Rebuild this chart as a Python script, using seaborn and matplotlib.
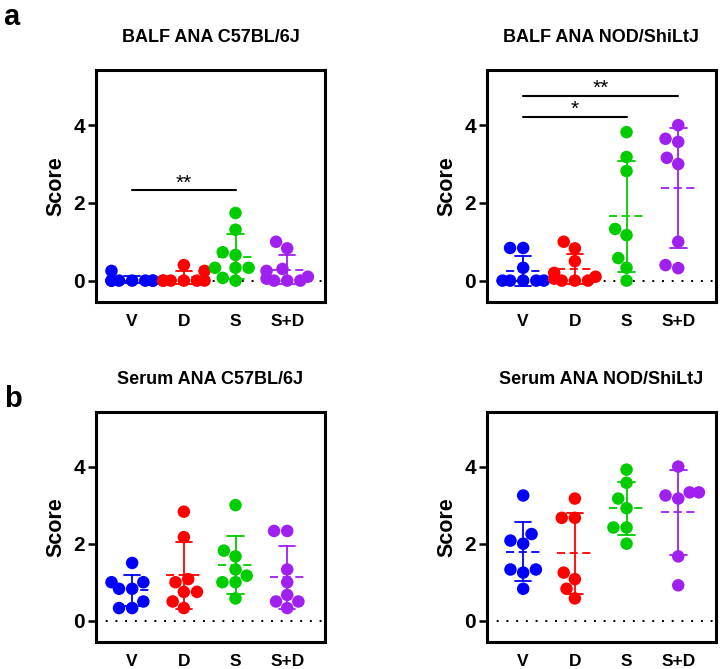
import warnings

import matplotlib
matplotlib.use("Agg")
import matplotlib.pyplot as plt
import numpy as np
import pandas as pd
import seaborn as sns

warnings.filterwarnings("ignore")

groups = ["V", "D", "S", "S+D"]
colors = ["#0000ff", "#ff0000", "#00cc00", "#a020f0"]

# BALF ANA, C57BL/6J
balf_c57_v = [0, 0, 0, 0, 0, 0, 0, 0.25]
balf_c57_d = [0, 0, 0, 0, 0, 0, 0.25, 0.4]
balf_c57_s = [1.74, 1.31, 0.73, 0.66, 0.33, 0.33, 0.33, 0.07, 0]
balf_c57_sd = [1.0, 0.83, 0.3, 0.25, 0.1, 0.05, 0, 0, 0]

# BALF ANA, NOD/ShiLtJ
balf_nod_v = [0, 0, 0, 0, 0, 0.33, 0.84, 0.84]
balf_nod_d = [1.0, 0.83, 0.5, 0.2, 0.1, 0.05, 0, 0, 0]
balf_nod_s = [3.82, 3.18, 2.82, 1.33, 1.17, 0.58, 0.33, 0]
balf_nod_sd = [4.0, 3.65, 3.57, 3.16, 3.0, 1.0, 0.4, 0.32]

# Serum ANA, C57BL/6J
serum_c57_v = [1.5, 1.0, 1.0, 0.83, 0.83, 0.5, 0.33, 0.33]
serum_c57_d = [2.83, 2.17, 1.08, 1.0, 0.75, 0.75, 0.5, 0.33]
serum_c57_s = [3.0, 1.82, 1.67, 1.33, 1.17, 1.0, 1.0, 0.58]
serum_c57_sd = [2.33, 2.33, 1.33, 1.0, 0.67, 0.5, 0.5, 0.33]

# Serum ANA, NOD/ShiLtJ
serum_nod_v = [3.25, 2.25, 2.08, 2.0, 1.33, 1.33, 1.25, 0.83]
serum_nod_d = [3.17, 2.67, 2.67, 1.25, 1.08, 0.83, 0.58]
serum_nod_s = [3.92, 3.58, 3.17, 2.92, 2.42, 2.42, 2.0]
serum_nod_sd = [4.0, 3.33, 3.33, 3.25, 3.17, 1.67, 0.92]

panels = [
    ("BALF ANA C57BL/6J", [balf_c57_v, balf_c57_d, balf_c57_s, balf_c57_sd],
     [(0, 2, 2.32, "**")]),
    ("BALF ANA NOD/ShiLtJ", [balf_nod_v, balf_nod_d, balf_nod_s, balf_nod_sd],
     [(0, 2, 4.22, "*"), (0, 3, 4.75, "**")]),
    ("Serum ANA C57BL/6J", [serum_c57_v, serum_c57_d, serum_c57_s, serum_c57_sd],
     []),
    ("Serum ANA NOD/ShiLtJ", [serum_nod_v, serum_nod_d, serum_nod_s, serum_nod_sd],
     []),
]

sns.set_theme(style="ticks")
plt.rcParams["font.family"] = ["Liberation Sans", "DejaVu Sans"]
plt.rcParams["font.weight"] = "bold"
for key in ["text.color", "axes.labelcolor", "xtick.color", "ytick.color"]:
    plt.rcParams[key] = "black"

fig = plt.figure(figsize=(7.2, 6.69), dpi=100)
rects = [
    [0.1333, 0.5486, 0.318, 0.3468],
    [0.6764, 0.5486, 0.318, 0.3468],
    [0.1333, 0.0404, 0.318, 0.3440],
    [0.6764, 0.0404, 0.318, 0.3440],
]

for rect, (title, values, sigs) in zip(rects, panels):
    ax = fig.add_axes(rect)
    df = pd.DataFrame({
        "group": np.concatenate([[g] * len(v) for g, v in zip(groups, values)]),
        "score": np.concatenate(values),
    })

    ax.axhline(0, color="black", lw=1.4, linestyle=(0, (1, 4)), zorder=1)

    sns.swarmplot(data=df, x="group", y="score", hue="group", order=groups,
                  hue_order=groups, palette=colors, size=9, legend=False,
                  ax=ax, zorder=3)
    sns.pointplot(data=df, x="group", y="score", hue="group", order=groups,
                  hue_order=groups, palette=colors, errorbar="sd",
                  capsize=0.32, markers="", linestyles="none",
                  err_kws={"linewidth": 1.3}, legend=False, ax=ax)

    means = df.groupby("group", sort=False)["score"].mean()
    for i, g in enumerate(groups):
        ax.hlines(means[g], i - 0.34, i + 0.34, color=colors[i], lw=1.3,
                  linestyles=(0, (4.5, 2.5)), zorder=4)

    for x0, x1, y, txt in sigs:
        ax.plot([x0, x1], [y, y], color="black", lw=1.5)
        ax.text((x0 + x1) / 2, y - 0.05, txt, ha="center", va="bottom",
                fontsize=15, fontweight="normal")

    ax.set_xlim(-0.7, 3.73)
    ax.set_ylim(-0.55, 5.42)
    ax.set_yticks([0, 2, 4])
    ax.set_xlabel("")
    ax.set_ylabel("Score", fontsize=15.5, fontweight="bold", labelpad=5)
    ax.set_title(title, fontsize=13, fontweight="bold", pad=20)
    ax.tick_params(axis="y", labelsize=15, width=1.8, length=6, pad=2)
    ax.tick_params(axis="x", labelsize=12.5, length=0, pad=9)
    for lab in ax.get_xticklabels() + ax.get_yticklabels():
        lab.set_fontweight("bold")
    for sp in ax.spines.values():
        sp.set_linewidth(2.2)
        sp.set_color("black")

fig.text(0.004, 0.995, "a", fontsize=21, fontweight="bold", va="top")
fig.text(0.006, 0.425, "b", fontsize=21, fontweight="bold", va="top")

fig.savefig("out.png", dpi=100)
